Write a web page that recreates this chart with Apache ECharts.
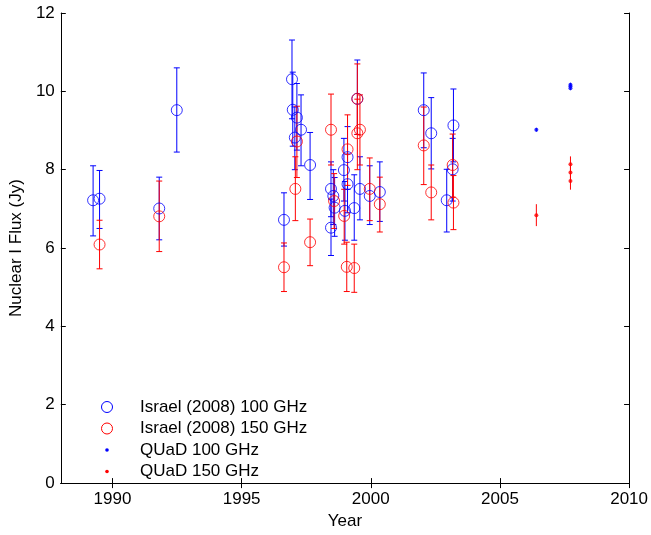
<!DOCTYPE html>
<html>
<head>
<meta charset="utf-8">
<script src="https://cdn.jsdelivr.net/npm/echarts@6/dist/echarts.min.js"></script>
<style>html,body{margin:0;padding:0;background:#fff}#c{width:651px;height:535px}</style>
</head>
<body>
<div id="c"></div>
<script>
// ---- data: [year, flux, errLow, errHigh] ----
var israel100 = [
  [1989.25, 7.22, 6.31, 8.10],
  [1989.50, 7.26, 6.50, 7.98],
  [1991.81, 7.01, 6.21, 7.81],
  [1992.49, 9.52, 8.45, 10.60],
  [1996.64, 6.72, 6.05, 7.41],
  [1996.95, 10.31, 9.30, 11.31],
  [1996.98, 9.53, 8.60, 10.49],
  [1997.14, 9.33, 8.50, 10.20],
  [1997.30, 9.02, 8.10, 9.91],
  [1997.06, 8.82, 8.00, 9.60],
  [1997.65, 8.12, 7.24, 8.95],
  [1998.46, 7.51, 6.80, 8.20],
  [1998.55, 7.33, 6.60, 8.00],
  [1998.60, 7.03, 6.30, 7.80],
  [1998.46, 6.52, 5.81, 7.25],
  [1998.96, 7.99, 7.20, 8.80],
  [1999.10, 8.32, 7.50, 9.10],
  [1999.10, 7.63, 6.90, 8.40],
  [1999.00, 6.95, 6.20, 7.70],
  [1999.36, 7.02, 6.20, 7.87],
  [1999.48, 9.81, 8.90, 10.80],
  [1999.58, 7.51, 6.72, 8.33],
  [1999.96, 7.33, 6.60, 8.10],
  [2000.35, 7.43, 6.68, 8.20],
  [2002.05, 9.52, 8.56, 10.47],
  [2002.34, 8.93, 8.02, 9.84],
  [2002.94, 7.22, 6.41, 8.01],
  [2003.20, 9.13, 8.20, 10.06],
  [2003.17, 8.01, 7.20, 8.80]
];
var israel150 = [
  [1989.50, 6.09, 5.47, 6.71],
  [1991.81, 6.81, 5.91, 7.71],
  [1996.64, 5.51, 4.89, 6.13],
  [1997.14, 8.72, 7.80, 9.62],
  [1997.08, 7.51, 6.70, 8.33],
  [1997.65, 6.15, 5.55, 6.74],
  [1998.46, 9.02, 8.12, 9.93],
  [1998.58, 7.20, 6.50, 7.90],
  [1998.97, 6.82, 6.10, 7.50],
  [1999.10, 8.52, 7.60, 9.40],
  [1999.07, 5.52, 4.89, 6.15],
  [1999.36, 5.49, 4.87, 6.10],
  [1999.48, 9.81, 8.90, 10.70],
  [1999.58, 9.02, 8.12, 9.91],
  [1999.48, 8.93, 8.00, 9.80],
  [1999.96, 7.51, 6.70, 8.30],
  [2000.35, 7.12, 6.41, 7.81],
  [2002.05, 8.62, 7.62, 9.60],
  [2002.34, 7.42, 6.72, 8.12],
  [2003.17, 8.12, 7.30, 8.91],
  [2003.20, 7.16, 6.47, 7.85]
];
var quad100 = [
  [2006.41, 9.02, 8.97, 9.07],
  [2007.73, 10.17, 10.12, 10.22],
  [2007.73, 10.13, 10.08, 10.18],
  [2007.73, 10.08, 10.03, 10.13]
];
var quad150 = [
  [2006.41, 6.84, 6.56, 7.12],
  [2007.73, 8.14, 7.95, 8.34],
  [2007.73, 7.93, 7.75, 8.10],
  [2007.73, 7.71, 7.49, 7.90]
];
var xTicks = [1990, 1995, 2000, 2005, 2010];
var legendNames = ['Israel (2008) 100 GHz', 'Israel (2008) 150 GHz', 'QUaD 100 GHz', 'QUaD 150 GHz'];

var BLUE = '#0000ff', RED = '#ff0000';
var FONT = 'Liberation Sans, Arial, sans-serif';
var FS = 17, TFS = 17;

function errBar(color, capW) {
  return function (params, api) {
    var x = api.value(0);
    var p1 = api.coord([x, api.value(2)]);
    var p2 = api.coord([x, api.value(3)]);
    var st = { stroke: color, lineWidth: 1 };
    var children = [{ type: 'line', shape: { x1: p1[0], y1: p1[1], x2: p2[0], y2: p2[1] }, style: st }];
    if (capW > 0) {
      children.push({ type: 'line', shape: { x1: p1[0] - capW, y1: p1[1], x2: p1[0] + capW, y2: p1[1] }, style: st });
      children.push({ type: 'line', shape: { x1: p2[0] - capW, y1: p2[1], x2: p2[0] + capW, y2: p2[1] }, style: st });
    }
    return { type: 'group', children: children };
  };
}
function errSeries(data, color, capW) {
  return { type: 'custom', xAxisIndex: 0, yAxisIndex: 0, data: data, renderItem: errBar(color, capW), encode: { x: 0, y: [2, 3] }, silent: true, animation: false, z: 2 };
}
function circleSeries(data, color) {
  return { type: 'scatter', xAxisIndex: 0, yAxisIndex: 0, data: data.map(function (d) { return [d[0], d[1]]; }), symbol: 'circle', symbolSize: 11,
    itemStyle: { color: 'rgba(0,0,0,0)', borderColor: color, borderWidth: 1 }, silent: true, animation: false, z: 3 };
}
function dotSeries(data, color) {
  return { type: 'scatter', xAxisIndex: 0, yAxisIndex: 0, data: data.map(function (d) { return [d[0], d[1]]; }), symbol: 'circle', symbolSize: 4,
    itemStyle: { color: color }, silent: true, animation: false, z: 3 };
}

var axisLineStyle = { color: '#000', width: 1 };
var tickStyle = { inside: true, length: 5, lineStyle: { color: '#000' } };
var labelStyle = { color: '#000', fontSize: TFS, fontFamily: FONT };
var plainFmt = function (v) { return String(v); };

var legendY = [407, 428.5, 450, 471.5];
var graphics = [];
legendNames.forEach(function (n, i) {
  var col = (i % 2 === 0) ? BLUE : RED;
  if (i < 2) {
    graphics.push({ type: 'circle', shape: { cx: 107, cy: legendY[i], r: 5.5 }, style: { fill: 'none', stroke: col, lineWidth: 1 } });
  } else {
    graphics.push({ type: 'circle', shape: { cx: 107, cy: legendY[i], r: 1.8 }, style: { fill: col } });
  }
  graphics.push({ type: 'text', x: 140, y: legendY[i], style: { text: n, fill: '#000', font: FS + 'px ' + FONT, verticalAlign: 'middle' } });
});

var chart = echarts.init(document.getElementById('c'), null, { renderer: 'canvas' });
chart.setOption({
  backgroundColor: '#fff',
  animation: false,
  grid: { left: 59, right: 20, top: 13, bottom: 42, containLabel: false },
  xAxis: [
    { type: 'value', min: 1988, max: 2010, position: 'bottom', name: 'Year', nameLocation: 'middle', nameGap: 26,
      nameTextStyle: { color: '#000', fontSize: FS, fontFamily: FONT },
      axisLine: { show: true, lineStyle: axisLineStyle },
      axisTick: Object.assign({ customValues: xTicks }, tickStyle),
      axisLabel: Object.assign({ customValues: xTicks, margin: 8, formatter: plainFmt }, labelStyle),
      splitLine: { show: false } },
    { type: 'value', min: 1988, max: 2010, position: 'top',
      axisLine: { show: true, lineStyle: axisLineStyle },
      axisTick: Object.assign({ customValues: xTicks }, tickStyle),
      axisLabel: { show: false }, splitLine: { show: false } }
  ],
  yAxis: [
    { type: 'value', min: 0, max: 12, interval: 2, position: 'left', name: 'Nuclear I Flux (Jy)', nameLocation: 'middle', nameGap: 26, nameRotate: 90,
      nameTextStyle: { color: '#000', fontSize: FS, fontFamily: FONT },
      axisLine: { show: true, lineStyle: axisLineStyle },
      axisTick: tickStyle,
      axisLabel: Object.assign({ margin: 6, formatter: plainFmt }, labelStyle),
      splitLine: { show: false } },
    { type: 'value', min: 0, max: 12, interval: 2, position: 'right',
      axisLine: { show: true, lineStyle: axisLineStyle },
      axisTick: tickStyle, axisLabel: { show: false }, splitLine: { show: false } }
  ],
  graphic: graphics,
  series: [
    errSeries(israel100, BLUE, 3),
    circleSeries(israel100, BLUE),
    errSeries(israel150, RED, 3),
    circleSeries(israel150, RED),
    errSeries(quad100, BLUE, 0),
    dotSeries(quad100, BLUE),
    errSeries(quad150, RED, 0),
    dotSeries(quad150, RED)
  ]
});
</script>
</body>
</html>
